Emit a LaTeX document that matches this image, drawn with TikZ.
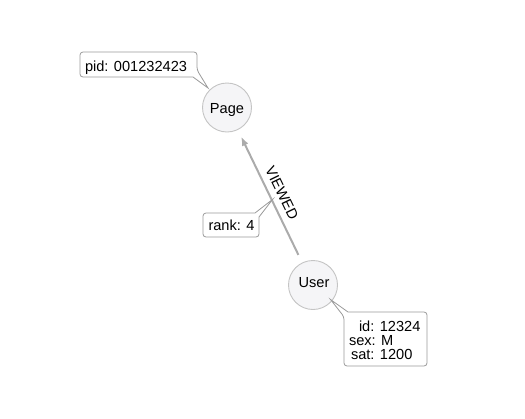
\documentclass[tikz,border=0pt]{standalone}
\usepackage{fontspec}
\setmainfont{Liberation Sans}
\usetikzlibrary{arrows.meta}
\definecolor{circfill}{HTML}{F5F5F7}
\definecolor{circline}{HTML}{C4C4C4}
\definecolor{boxline}{HTML}{9A9A9A}
\definecolor{edgecol}{HTML}{ABABAB}
\tikzset{
  ent/.style={circle,draw=circline,fill=circfill,line width=0.9pt,minimum size=49pt,inner sep=0pt,outer sep=0pt},
  callout/.style={draw=boxline,fill=white,line width=0.8pt},
  txt/.style={inner sep=0pt,outer sep=0pt,font=\fontsize{14.6}{14}\selectfont},
  rel/.style={draw=edgecol,line width=2pt,-{Latex[length=9pt,width=7pt]}}
}
\begin{document}
\begin{tikzpicture}[x=1pt,y=-1pt]
\useasboundingbox (0,0) rectangle (525,418);
% nodes
\node[ent] (page) at (227,107.5) {};
\node[ent] (user) at (313,285) {};
\node[txt,anchor=base] (pagetxt) at (227,113.5) {Page};
\node[txt,anchor=base] (usertxt) at (314,287) {User};
% edge
\draw[rel,shorten <=9pt,shorten >=8pt] (user) -- (page) coordinate[pos=0.47] (rk);
\node[txt,rotate=-64.2] (viewed) at (282,193) {VIEWED};
% pid callout
\draw[callout] (80,52) [rounded corners=3pt] -- (197,52) -- (197,70) [sharp corners] -- (208,88) -- (193,77) [rounded corners=3pt] -- (80,77) -- cycle;
\node[txt,anchor=base west] (pid) at (85,71) {pid: 001232423};
% rank callout
\draw[callout] (203,213) -- (255,213) [sharp corners] -- (272.7,199.3) -- (259,217) [rounded corners=3pt] -- (259,237) -- (203,237) -- cycle;
\node[txt,anchor=base west] (rank) at (208.5,230) {rank: 4};
% user callout
\draw[callout] (344,316.7) [sharp corners] -- (330.5,299.5) -- (348,312) [rounded corners=3pt] -- (427,312) -- (427,366) -- (344,366) -- cycle;
\node[txt,anchor=base west] (uid) at (359,331.7) {id: 12324};
\node[txt,anchor=base west] (usex) at (349,345.5) {sex: M};
\node[txt,anchor=base west] (usat) at (351,359.3) {sat: 1200};
\end{tikzpicture}
\end{document}
